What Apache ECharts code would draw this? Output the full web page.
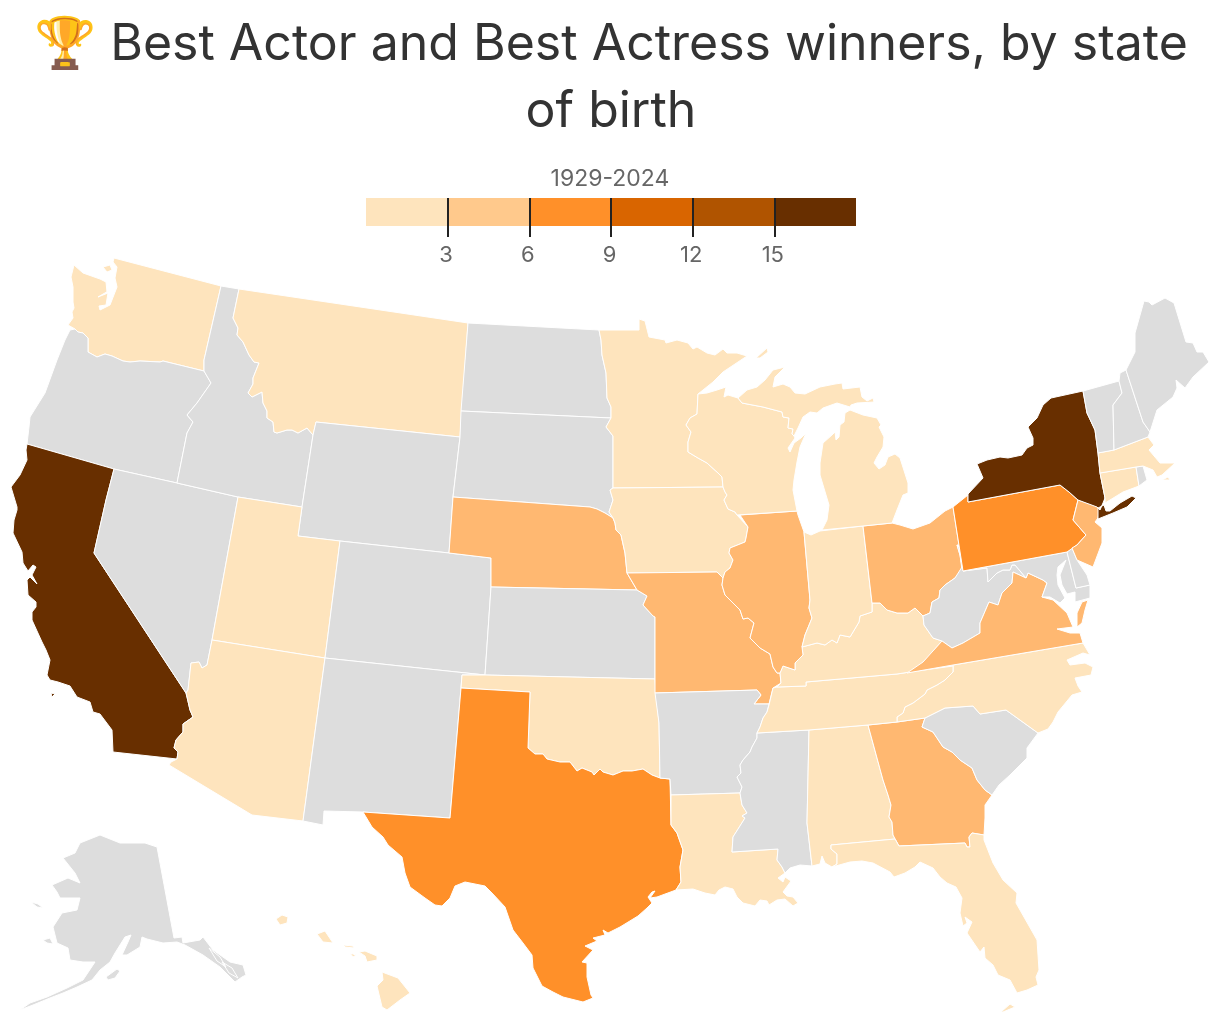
<!DOCTYPE html>
<html>
<head>
<meta charset="utf-8">
<style>html,body{margin:0;padding:0;background:#fff}#main{width:1220px;height:1022px}</style>
<script src="https://cdn.jsdelivr.net/npm/echarts@6/dist/echarts.min.js"></script>
</head>
<body>
<div id="main"></div>
<script>
// values (colour class only, so they are estimates)
var stateNames = ['California','New York','Texas','Pennsylvania','Nebraska','Ohio','Illinois','Missouri','Georgia','Virginia','New Jersey',
  'Washington','Montana','Minnesota','Wisconsin','Michigan','Iowa','Indiana','Kentucky','Tennessee','Alabama','Florida','North Carolina',
  'Louisiana','Oklahoma','Arizona','Utah','Massachusetts','Connecticut','Hawaii'];
var stateWins = [16,17,7,8,3,4,5,3,3,3,4,
  1,1,2,2,2,1,2,2,2,1,2,2,
  2,2,1,1,2,2,1];
var binStops = [0,3,6,9,12,15,18];
var tickValues = [3,6,9,12,15];
var mapColors = ['#fee4bd','#ffb871','#ff9029','#d96500','#b05400','#682f00'];
var legendColors = ['#fee4bd','#ffc98c','#ff9029','#d96500','#b05400','#682f00'];
var noDataColor = '#dddddd';

function rev(s){ return s.split(' ').reverse().join(' '); }
function tail(s){ return s.split(' ').slice(1).join(' '); }

// shared borders
var waOr = '204,371 163,361 160,362 140,361 130,362 123,361 112,356 105,354 97,357 88,352 88,338 83,333 78,332 75,329';
var orId = '177,483 187,433 193,422 187,415 197,403 211,383 204,371';
var idMt = '233,318 238,328 237,335 243,342 249,355 254,362 259,363 253,378 253,384 248,393 252,397 262,392 263,403 267,411 267,418 273,422 274,432 277,433 287,430 292,430 298,433 307,428 313,435';
var caAz = '177,759 178,752 174,748 176,740 183,732 183,724 193,717 190,710 187,697 186,693';
var nvAz = '186,693 188,690 191,663 199,662 202,668 207,665 212,640';
var okTx = '528,748 535,754 543,754 547,759 560,762 570,762 577,771 582,768 592,772 594,775 600,769 603,772 613,775 623,771 632,771 643,769 652,775 660,778';
var txLa = '671,825 677,833 683,850 680,867 681,882 676,890';
var ndMn = '599,330 601,340 602,355 606,373 607,398 611,407 611,418';
var sdMn = '611,418 606,427 613,436 613,488';
var sdIa = '613,488 610,490 613,500 609,512 613,518';
var neIa = '613,518 615,523 616,530 621,535 625,553 627,573';
var ksMo = '637,590 647,596 643,605 653,616 655,617';
var mnWi = '698,394 697,414 690,418 686,425 691,432 688,442 688,452 698,458 707,463 718,473 722,477 723,487';
var wiIa = '723,487 725,492 727,495 724,500 728,509 735,512 737,515';
var ilIa = '737,515 748,527 746,538 745,542 730,548 729,553 733,560 730,568 725,572 723,578';
var ilMo = '723,578 722,585 725,595 740,610 743,619 748,618 754,623 750,638 760,648 770,654 773,667 777,673 780,673';
var ilKy = '780,673 783,666 795,670 795,663 803,655 802,647';
var ilIn = '802,647 805,635 812,618 809,608 810,600 804,532';
var inKy = '802,647 817,643 825,645 832,640 837,643 840,635 850,637 859,622 860,616 872,612 872,603';
var ohKy = '872,603 880,603 887,610 897,613 908,613 915,608 923,616';
var wvKy = '923,616 924,625 933,638 942,641';
var vaKy = '942,641 928,657 918,667 910,672';
var wiUp = '738,398 742,403 763,407 782,412 783,417 789,418 788,428 793,429 792,434 794,436';
var tnKyTop = '777,687 806,686 806,682 897,674 910,672 953,666';
var tnNc = '953,666 953,672 945,680 937,685 927,690 925,694 913,703 905,707 903,713 897,717 897,722';
var arMs = '740,793 742,787 737,777 741,773 740,765 743,760 750,752 752,747 757,738 757,733';
var msLa = '740,793 742,805 747,813 742,816 745,818 733,837 732,852 778,849 777,860 782,867 785,873';
var gaSc = '925,718 922,727 933,732 943,747 952,752 960,760 972,768 977,780 985,790 992,795';
var gaAl = '868,725 883,780 888,795 891,805 889,817 892,822 893,835 899,846';
var gaFl = '899,846 965,843 967,847 970,847 969,837 972,833 984,835';
var ncSc = '925,718 935,713 945,708 973,706 980,714 1006,710 1038,733';
var vaWvEast = '942,641 952,648 963,643 980,633 980,623 989,602 998,605 1002,593 1012,583 1013,572 1026,578';
var vaMd = '1026,578 1028,573 1043,580 1047,583 1042,597';
var wvMd = '987,568 988,582 997,573 1003,570 1010,570 1012,565 1015,565 1026,578';
var ohWv = '923,616 930,613 932,602 939,598 940,590 945,585 955,578 962,570';
var nyPa = '968,502 1060,485 1069,492 1078,500';
var nyNe = '1105,498 1100,473 1098,453 1095,430 1087,413 1083,391';

// traced state outlines, in page-sized map units; | starts another polygon
var stateShapes = {
  'Washington': '74,265 83,273 100,279 106,282 107,292 110,290 98,297 108,293 106,305 99,306 100,310 110,305 117,287 115,278 117,267 113,262 114,258 221,286 204,360 ' + waOr + ' 68,325 73,318 72,312 74,308 73,302 73,287 71,277|103,267 110,265 112,270 107,272',
  'Oregon': rev(waOr) + ' ' + rev(orId) + ' 114,469 27,444 29,427 30,417 45,393 57,360 65,340 70,330',
  'California': '27,444 114,469 106,500 94,553 ' + rev(caAz) + ' 113,752 112,730 100,714 93,712 90,702 77,697 70,686 58,682 50,680 47,675 50,660 46,650 42,642 32,620 32,612 36,607 36,602 28,595 27,580 30,577 37,584 32,575 36,567 33,565 28,571 23,563 22,552 13,533 14,520 17,510 17,507 11,487 20,475 27,460 26,450|51,693 55,694 52,697',
  'Nevada': '114,469 177,483 238,497 212,640 ' + rev(nvAz) + ' 94,553 106,500',
  'Idaho': '221,286 239,289 ' + idMt + ' 302,507 238,497 ' + orId + ' 204,360',
  'Montana': '239,289 468,323 462,410 460,437 316,422 ' + rev(idMt),
  'Wyoming': '316,422 460,437 453,497 449,553 340,541 298,536 302,507 313,435',
  'Utah': '238,497 302,507 298,536 340,541 325,658 212,640',
  'Arizona': nvAz + ' 325,658 303,821 252,815 169,765 171,762 ' + caAz.split(' ').slice(0,-1).join(' '),
  'Colorado': '340,541 449,553 491,558 491,587 485,675 325,658',
  'New Mexico': '325,658 485,675 462,675 461,688 450,818 363,812 324,811 323,825 303,821',
  'North Dakota': '468,323 ' + ndMn + ' 461,411',
  'South Dakota': '461,411 ' + sdMn + ' ' + sdIa + ' 605,513 597,509 590,507 453,497 460,437',
  'Nebraska': '453,497 590,507 597,509 605,513 613,518 ' + tail(neIa) + ' 637,590 491,587 491,558 449,553',
  'Kansas': '491,587 ' + ksMo + ' 655,679 485,675',
  'Oklahoma': '462,675 485,675 655,679 656,693 659,723 660,778 ' + rev(okTx) + ' 530,692 461,688',
  'Texas': '461,688 530,692 ' + okTx + ' 670,779 ' + txLa + ' 657,897 650,898 655,891 652,892 648,897 652,903 647,908 638,916 620,927 608,933 603,930 605,935 593,938 597,941 585,946 593,950 582,962 587,963 587,977 591,995 593,998 583,1002 563,997 553,992 542,986 533,968 532,955 523,943 513,930 505,907 492,893 485,886 465,882 455,886 450,898 442,906 435,905 425,898 410,887 405,873 402,857 388,845 383,837 372,827 363,812 450,818',
  'Minnesota': '599,330 639,330 639,319 645,321 649,337 665,340 666,343 677,340 688,343 693,349 697,347 707,353 715,355 723,349 727,353 737,353 747,356 723,372 713,382 698,394 ' + tail(mnWi) + ' 613,488 ' + tail(rev(sdMn)) + ' ' + tail(rev(ndMn)) + '|756,358 767,348 768,352 760,358',
  'Iowa': '613,488 723,487 ' + wiIa.split(' ').slice(1,-1).join(' ') + ' 737,515 ' + tail(ilIa) + ' 717,572 627,573 ' + tail(rev(neIa)) + ' ' + rev(sdIa).split(' ').slice(1,-1).join(' '),
  'Missouri': '627,573 717,572 723,578 ' + tail(ilMo) + ' 781,683 773,688 769,704 754,704 761,695 757,690 655,693 655,617 653,616 643,605 647,596 637,590',
  'Arkansas': '655,693 757,690 761,695 754,704 769,704 767,712 763,718 760,727 757,733 ' + tail(rev(arMs)) + ' 671,795 670,779 660,778 659,723',
  'Louisiana': '671,795 ' + msLa + ' 778,878 783,882 785,877 791,881 783,892 787,896 793,897 798,903 793,906 785,899 777,900 769,905 767,901 760,900 755,906 743,903 737,897 733,889 725,887 719,890 715,895 705,893 693,889 676,890 681,882 680,867 683,850 677,833 671,825',
  'Mississippi': '758,733 809,730 807,823 812,866 800,865 790,868 ' + rev(msLa) + ' ' + tail(arMs),
  'Alabama': '809,730 868,725 ' + gaAl.split(' ').slice(1,-1).join(' ') + ' 895,839 831,845 831,849 837,854 837,864 832,867 825,863 822,856 820,864 812,866 807,823',
  'Georgia': '868,725 897,722 925,718 ' + tail(gaSc) + ' 985,805 985,818 984,835 ' + tail(rev(gaFl)) + ' ' + tail(rev(gaAl)),
  'Florida': '831,845 895,839 ' + gaFl + ' 984,840 993,863 1003,880 1017,893 1016,903 1037,940 1039,970 1036,977 1038,985 1027,990 1017,993 1010,980 998,975 993,965 985,958 984,947 980,952 967,933 972,922 965,917 967,923 963,926 960,913 962,898 956,887 947,883 940,877 933,868 920,862 915,867 905,873 894,877 890,872 873,863 862,861 850,862 832,867 837,864 837,854 831,849|1001,1012 1010,1004 1015,1007 1003,1012',
  'South Carolina': gaSc + ' 999,785 1010,775 1027,758 1027,748 1038,733 ' + tail(rev(ncSc)),
  'North Carolina': '897,722 925,718 ' + tail(ncSc) + ' 1048,729 1053,722 1058,712 1072,695 1082,692 1078,686 1075,678 1091,675 1093,667 1085,663 1070,665 1067,660 1083,653 1090,655 1083,643 953,665 ' + tnNc.split(' ').slice(1,-1).join(' '),
  'Tennessee': '773,688 ' + tnKyTop + ' ' + tail(tnNc) + ' 868,725 809,730 757,733 760,727 763,718 767,712 769,705',
  'Kentucky': '777,687 781,683 780,673 ' + tail(ilKy) + ' ' + tail(inKy) + ' ' + tail(ohKy) + ' ' + tail(wvKy) + ' ' + tail(vaKy) + ' 897,674 806,682 806,686',
  'Illinois': '740,515 797,511 798,515 ' + rev(ilIn) + ' ' + tail(rev(ilKy)) + ' ' + tail(rev(ilMo)) + ' ' + rev(ilIa).split(' ').slice(1,-1).join(' '),
  'Indiana': '804,532 811,535 820,531 863,526 872,603 ' + tail(rev(inKy)) + ' ' + tail(ilIn),
  'Ohio': '863,526 892,523 900,525 913,529 930,523 945,511 953,507 959,545 957,545 960,555 962,570 ' + tail(rev(ohWv)) + ' ' + tail(rev(ohKy)),
  'Wisconsin': '698,394 707,393 717,390 726,387 724,397 728,395 ' + wiUp + ' 795,438 788,448 790,452 794,443 801,438 806,433 800,447 797,462 794,480 793,490 797,511 737,515 ' + tail(rev(wiIa)) + ' ' + tail(rev(mnWi)),
  'Michigan': '738,398 747,390 757,387 765,380 773,370 785,367 775,377 773,387 783,384 790,387 795,393 805,394 820,387 835,384 842,383 843,389 860,387 862,397 867,401 873,398 874,402 857,403 851,405 850,407 837,403 823,408 817,413 810,412 803,417 798,428 ' + rev(wiUp) + '|850,410 863,415 877,418 881,425 879,427 884,437 883,447 880,452 877,457 874,463 879,469 885,465 888,457 895,454 900,458 908,483 908,493 903,495 897,510 892,523 863,526 822,530 827,520 829,505 820,475 820,463 823,443 832,435 835,432 836,440 839,437 840,425 844,422 845,413',
  'West Virginia': '957,545 959,547 963,571 ' + wvMd + ' ' + tail(rev(vaWvEast)) + ' ' + tail(rev(wvKy)) + ' ' + ohWv.split(' ').slice(1,-1).join(' ') + ' 962,567 960,555',
  'Virginia': vaWvEast + ' ' + tail(vaMd) + ' 1053,600 1067,613 1073,627 1057,629 1070,633 1080,633 1083,643 953,665 907,673 923,662|1088,600 1082,602 1077,613 1077,627 1082,623 1085,610',
  'Maryland': '963,571 1067,552 1076,588 1090,585 1090,598 1075,602 1075,592 1067,594 1062,585 1060,575 1066,560 1058,567 1057,575 1058,585 1065,598 1060,603 1050,597 1042,597 1047,583 1043,580 1028,573 1026,578 ' + tail(rev(wvMd)),
  'Delaware': '1067,552 1072,548 1077,560 1087,575 1090,585 1076,588',
  'Pennsylvania': '953,507 968,495 ' + nyPa + ' 1073,520 1086,535 1077,545 1067,552 963,571',
  'New Jersey': '1078,500 1100,507 1098,518 1095,522 1102,528 1102,543 1093,567 1077,560 1072,548 1077,545 1086,535 1073,520',
  'New York': '968,494 968,502 1060,485 1069,492 1078,500 1097,507 1100,510 1103,503 ' + nyNe + ' 1051,398 1043,405 1037,418 1028,427 1033,438 1033,445 1027,448 1022,455 1008,458 1000,457 987,460 977,464 983,478|1098,519 1098,508 1104,505 1106,511 1110,511 1120,503 1132,496 1136,498 1127,507 1113,513',
  'Connecticut': '1100,473 1136,467 1139,486 1123,492 1110,500 1105,503 1105,498',
  'Rhode Island': '1136,467 1143,466 1147,480 1139,486',
  'Massachusetts': '1098,453 1114,450 1148,437 1154,445 1149,450 1160,463 1175,463 1162,475 1157,477 1153,470 1143,466 1136,467 1100,473|1162,480 1168,477 1170,480',
  'Vermont': '1083,391 1119,381 1122,393 1113,405 1114,450 1098,453 1095,430 1087,413',
  'New Hampshire': '1119,381 1120,373 1126,370 1143,422 1150,432 1148,437 1114,450 1113,405 1122,393',
  'Maine': '1126,370 1130,362 1135,352 1135,333 1144,301 1149,302 1152,305 1165,298 1174,303 1186,342 1193,343 1197,352 1203,352 1209,362 1193,377 1185,388 1176,380 1177,388 1173,397 1157,410 1150,432 1143,422',
  'Alaska': '157,847 174,938 182,937 183,943 200,940 203,937 213,950 230,962 243,965 246,975 242,977 235,982 220,967 203,955 185,945 177,942 163,943 147,939 142,937 140,947 127,955 122,955 128,942 131,935 125,937 115,953 110,962 100,970 92,980 77,987 63,993 50,998 33,1005 20,1010 30,1003 47,997 67,988 83,980 95,962 83,962 70,960 68,948 57,943 53,927 62,913 77,910 80,898 60,898 57,892 52,885 68,878 80,883 75,873 63,858 75,853 80,843 100,835 120,843 145,843|43,940 50,938 53,944 47,943|31,902 38,904 43,908 37,907|106,977 117,969 120,971 115,978 108,980|209,948 220,957 226,967 217,961|222,962 232,968 238,978 229,973',
  'Hawaii': '276,919 282,915 288,917 287,923 280,925|317,934 325,931 333,943 323,942|343,945 353,946 354,948 345,947|350,953 356,955 353,957|359,952 365,951 377,956 377,960 367,962 365,956|382,972 398,978 410,993 400,1000 387,1010 382,1007 377,986 383,980'
};

function parseRing(s){
  return s.trim().split(/\s+/).map(function(p){
    var c = p.split(',');
    return [Number(c[0]), Number(c[1])];
  });
}

var features = [];
var minX = 1e9, minY = 1e9, maxX = -1e9, maxY = -1e9;
for (var name in stateShapes) {
  var polys = stateShapes[name].split('|').map(function(s){
    var ring = parseRing(s);
    ring.forEach(function(c){
      minX = Math.min(minX, c[0]); maxX = Math.max(maxX, c[0]);
      minY = Math.min(minY, c[1]); maxY = Math.max(maxY, c[1]);
    });
    ring.push(ring[0]);
    return [ring];
  });
  features.push({type:'Feature', properties:{name:name}, geometry:{type:'MultiPolygon', coordinates:polys}});
}
echarts.registerMap('usa', {type:'FeatureCollection', features:features});

var mapData = stateNames.map(function(n, i){ return {name:n, value:stateWins[i]}; });
var pieces = mapColors.map(function(c, i){ return {gte:binStops[i], lt:binStops[i+1], color:c}; });

var legendSeries = legendColors.map(function(c, i){
  return {type:'bar', stack:'scale', barWidth:'100%', silent:true, xAxisIndex:0, yAxisIndex:0,
    itemStyle:{color:c}, data:[binStops[i+1]-binStops[i]]};
});

var myChart = echarts.init(document.getElementById('main'), null, {renderer:'canvas'});
myChart.setOption({
  animation:false,
  backgroundColor:'#fff',
  title:[
    {text:'🏆 Best Actor and Best Actress winners, by state\nof birth', left:611, top:11, textAlign:'center', padding:0,
      textStyle:{fontFamily:'Inter',fontWeight:400,fontSize:50,lineHeight:67,color:'#333333',align:'center'}},
    {text:'1929-2024', left:610, top:168, textAlign:'center', padding:0,
      textStyle:{fontFamily:'Inter',fontWeight:400,fontSize:23,color:'#666666'}}
  ],
  grid:{left:366, top:198, width:490, height:28, containLabel:false},
  xAxis:{type:'value', position:'top', min:0, max:18, interval:3, z:5,
    axisLine:{show:false}, splitLine:{show:false},
    axisTick:{show:true, inside:true, length:39, lineStyle:{color:'#222222', width:2}, customValues:tickValues},
    axisLabel:{show:true, inside:true, margin:46, fontFamily:'Inter', fontSize:22, color:'#666666', padding:[0,3,0,0], customValues:tickValues}},
  yAxis:{type:'category', data:[''], show:false},
  visualMap:{type:'piecewise', show:false, seriesIndex:legendSeries.length, pieces:pieces},
  series:legendSeries.concat([{
    type:'map', map:'usa', silent:true, roam:false,
    projection:{project:function(p){return p;}, unproject:function(p){return p;}},
    left:minX, top:minY, width:maxX-minX, height:maxY-minY,
    label:{show:false},
    itemStyle:{areaColor:noDataColor, borderColor:'#ffffff', borderWidth:1},
    emphasis:{disabled:true},
    select:{disabled:true},
    data:mapData
  }])
});
</script>
</body>
</html>
